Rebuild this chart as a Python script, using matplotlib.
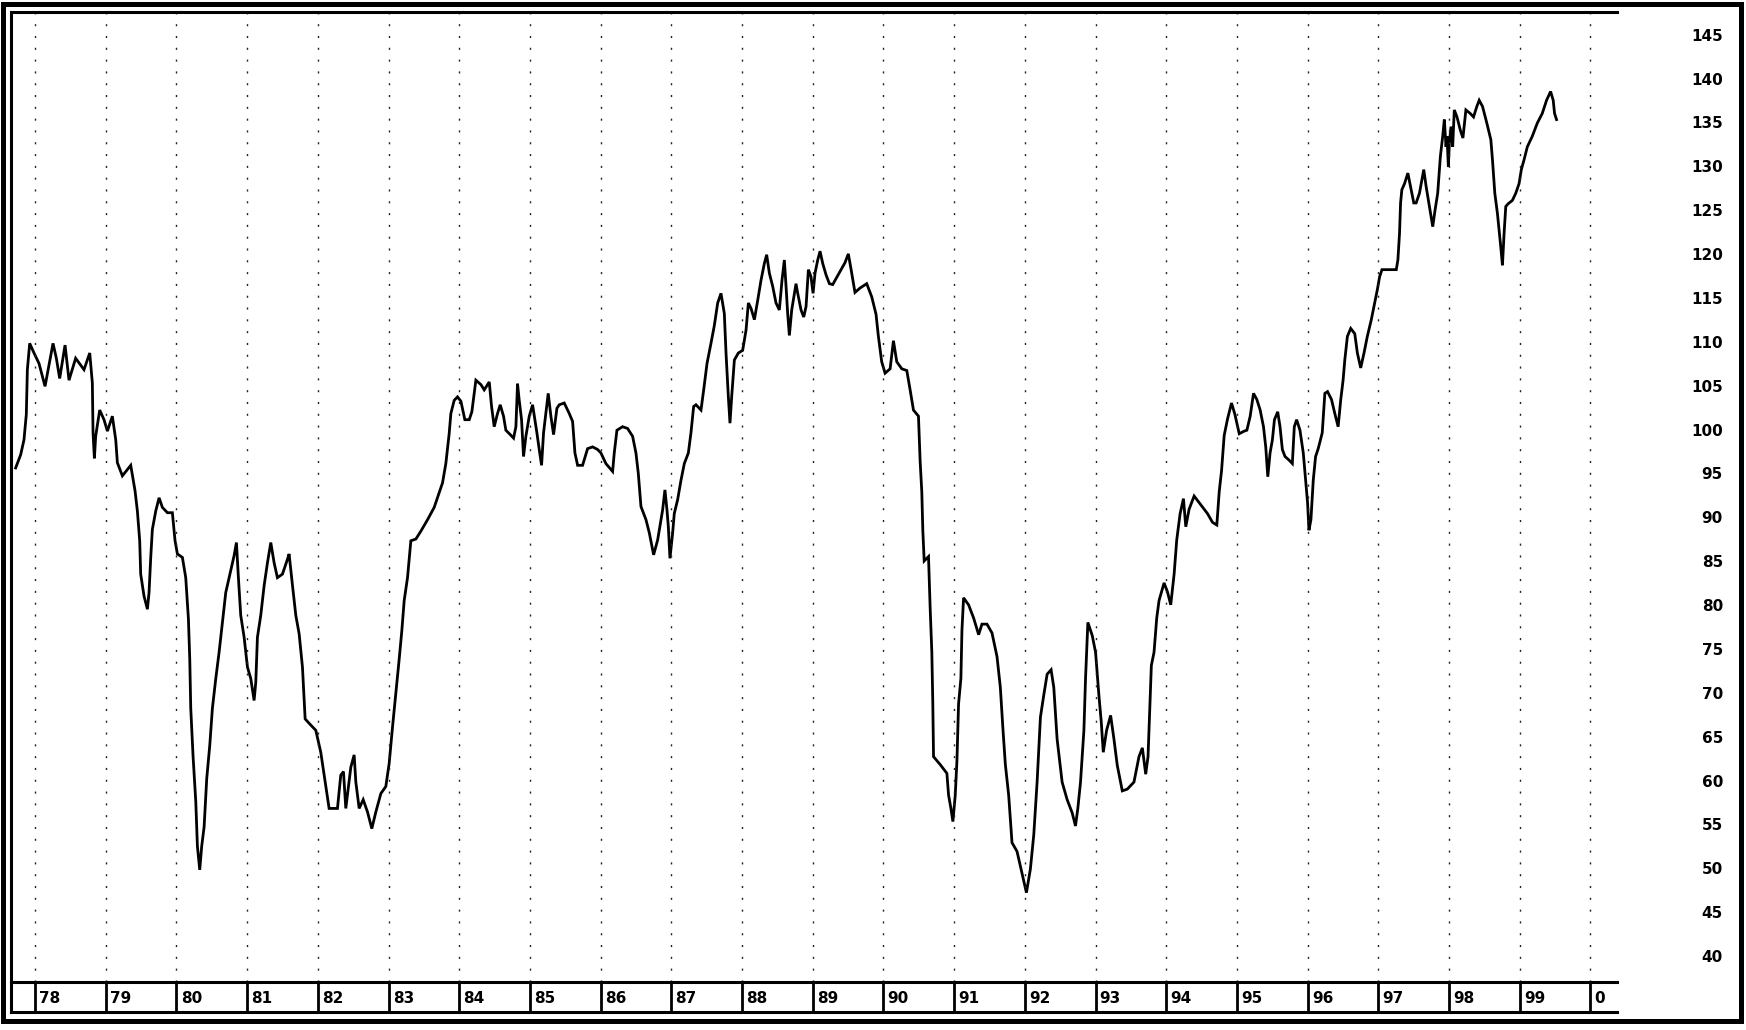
import matplotlib
matplotlib.use("Agg")
import matplotlib.pyplot as plt
import matplotlib.transforms as mtransforms
from matplotlib.patches import Rectangle

# index readings, split by period (decimal year, level)
t_78_83 = [1977.726, 1977.797, 1977.844, 1977.877, 1977.892, 1977.925, 1977.986, 1978.057, 1978.142, 1978.198,
           1978.255, 1978.302, 1978.349, 1978.387, 1978.425, 1978.481, 1978.575, 1978.693, 1978.774, 1978.811,
           1978.821, 1978.840, 1978.858, 1978.915, 1978.976, 1979.024, 1979.094, 1979.142, 1979.165, 1979.236,
           1979.354, 1979.415, 1979.448, 1979.481, 1979.495, 1979.542, 1979.590, 1979.613, 1979.637, 1979.660,
           1979.708, 1979.755, 1979.802, 1979.873, 1979.943, 1979.981, 1980.014, 1980.085, 1980.132, 1980.170,
           1980.189, 1980.203, 1980.236, 1980.274, 1980.297, 1980.330, 1980.358, 1980.392, 1980.429, 1980.472,
           1980.509, 1980.557, 1980.604, 1980.651, 1980.698, 1980.769, 1980.816, 1980.849, 1980.877, 1980.910,
           1980.958, 1981.005, 1981.052, 1981.099, 1981.123, 1981.146, 1981.193, 1981.241, 1981.288, 1981.335,
           1981.382, 1981.429, 1981.500, 1981.571, 1981.594, 1981.642, 1981.689, 1981.736, 1981.783, 1981.821,
           1981.877, 1981.972, 1982.042, 1982.090, 1982.160, 1982.278, 1982.325, 1982.363, 1982.396, 1982.434,
           1982.467, 1982.514, 1982.538, 1982.585, 1982.642, 1982.703, 1982.764, 1982.821, 1982.892, 1982.962,
           1983.009, 1983.057, 1983.104, 1983.151, 1983.189, 1983.222, 1983.269, 1983.316, 1983.387, 1983.458,
           1983.552, 1983.646]
v_78_83 = [95.8, 97.3, 99.0, 101.9, 107.0, 110.0, 108.9, 107.7, 105.1, 107.5,
           110.0, 108.3, 106.0, 107.9, 109.8, 105.8, 108.3, 107.0, 108.9, 105.5,
           99.8, 96.9, 99.4, 102.4, 101.3, 100.0, 101.7, 99.0, 96.4, 94.9,
           96.1, 93.2, 90.9, 87.5, 83.7, 81.2, 79.7, 81.6, 85.6, 88.8,
           90.9, 92.4, 91.3, 90.7, 90.7, 87.5, 86.0, 85.6, 83.3, 78.6,
           74.0, 68.4, 62.9, 57.8, 52.7, 50.0, 52.7, 54.9, 60.4, 64.2,
           68.4, 71.8, 74.8, 78.2, 81.6, 84.1, 85.8, 87.3, 83.3, 79.0,
           76.5, 73.1, 71.8, 69.3, 71.4, 76.5, 79.0, 82.4, 85.0, 87.3,
           85.0, 83.3, 83.7, 85.4, 86.0, 82.4, 79.0, 76.9, 73.1, 67.2,
           66.7, 65.9, 63.4, 60.8, 57.0, 57.0, 60.8, 61.2, 57.0, 59.5,
           61.7, 63.1, 60.0, 57.0, 58.0, 56.6, 54.7, 56.6, 58.7, 59.5,
           62.1, 66.3, 70.1, 74.0, 77.3, 80.7, 83.3, 87.5, 87.7, 88.6,
           89.9, 91.3]

t_84_89 = [1983.764, 1983.811, 1983.858, 1983.882, 1983.929, 1983.976, 1984.024, 1984.080, 1984.142, 1984.179,
           1984.236, 1984.307, 1984.354, 1984.425, 1984.458, 1984.495, 1984.542, 1984.580, 1984.627, 1984.660,
           1984.722, 1984.769, 1984.802, 1984.825, 1984.849, 1984.882, 1984.910, 1984.943, 1984.991, 1985.038,
           1985.099, 1985.132, 1985.165, 1985.193, 1985.226, 1985.259, 1985.297, 1985.335, 1985.382, 1985.415,
           1985.486, 1985.557, 1985.604, 1985.637, 1985.675, 1985.745, 1985.816, 1985.887, 1985.958, 1986.005,
           1986.075, 1986.170, 1986.193, 1986.231, 1986.311, 1986.382, 1986.453, 1986.500, 1986.533, 1986.571,
           1986.642, 1986.689, 1986.750, 1986.807, 1986.877, 1986.910, 1986.939, 1986.958, 1986.981, 1987.019,
           1987.042, 1987.090, 1987.137, 1987.184, 1987.241, 1987.278, 1987.316, 1987.349, 1987.420, 1987.458,
           1987.505, 1987.561, 1987.608, 1987.656, 1987.703, 1987.750, 1987.774, 1987.807, 1987.830, 1987.854,
           1987.892, 1987.948, 1988.009, 1988.057, 1988.090, 1988.127, 1988.175, 1988.222, 1988.269, 1988.316,
           1988.349, 1988.387, 1988.434, 1988.481, 1988.528, 1988.566, 1988.599, 1988.623, 1988.646, 1988.670,
           1988.703, 1988.741, 1988.764, 1988.788, 1988.835, 1988.873, 1988.906, 1988.939, 1988.976, 1989.005,
           1989.033, 1989.071, 1989.104, 1989.142, 1989.189, 1989.236, 1989.283]
v_84_89 = [94.1, 96.3, 99.7, 102.0, 103.5, 103.9, 103.4, 101.3, 101.3, 102.2,
           105.8, 105.3, 104.7, 105.6, 102.8, 100.5, 102.0, 103.0, 101.7, 100.1,
           99.6, 99.2, 100.5, 105.4, 103.5, 101.3, 97.1, 99.4, 101.7, 103.0,
           99.8, 97.9, 96.1, 99.8, 102.0, 104.3, 101.7, 99.6, 102.6, 103.0,
           103.2, 102.0, 101.1, 97.5, 96.1, 96.1, 98.0, 98.2, 97.9, 97.5,
           96.3, 95.4, 97.5, 100.1, 100.5, 100.3, 99.4, 97.5, 95.2, 91.4,
           89.9, 88.4, 85.9, 87.6, 91.0, 93.3, 91.0, 89.1, 85.5, 88.4,
           90.6, 92.2, 94.4, 96.3, 97.5, 99.8, 102.8, 103.0, 102.4, 104.7,
           107.7, 110.0, 112.0, 114.6, 115.7, 113.4, 108.9, 103.9, 100.9, 103.9,
           108.1, 108.9, 109.2, 111.5, 114.6, 114.0, 112.7, 114.9, 117.2, 119.1,
           120.1, 118.0, 116.5, 114.6, 113.8, 117.2, 119.5, 116.5, 113.4, 110.9,
           113.8, 115.7, 116.8, 115.7, 113.8, 113.0, 114.2, 118.4, 117.6, 115.7,
           118.0, 119.5, 120.5, 119.1, 117.8, 116.8, 116.7]

t_89_95 = [1989.457, 1989.504, 1989.537, 1989.598, 1989.669, 1989.764, 1989.835, 1989.896, 1989.929, 1989.976,
           1990.024, 1990.095, 1990.142, 1990.189, 1990.260, 1990.331, 1990.378, 1990.425, 1990.496, 1990.520,
           1990.543, 1990.558, 1990.577, 1990.638, 1990.662, 1990.685, 1990.699, 1990.709, 1990.803, 1990.898,
           1990.922, 1990.955, 1990.983, 1991.016, 1991.040, 1991.063, 1991.096, 1991.111, 1991.134, 1991.205,
           1991.276, 1991.347, 1991.394, 1991.465, 1991.536, 1991.607, 1991.654, 1991.692, 1991.725, 1991.772,
           1991.819, 1991.890, 1991.961, 1992.023, 1992.079, 1992.127, 1992.174, 1992.221, 1992.268, 1992.316,
           1992.372, 1992.410, 1992.457, 1992.528, 1992.599, 1992.670, 1992.717, 1992.750, 1992.788, 1992.836,
           1992.859, 1992.892, 1992.954, 1993.001, 1993.048, 1993.081, 1993.110, 1993.157, 1993.214, 1993.261,
           1993.308, 1993.379, 1993.450, 1993.544, 1993.615, 1993.663, 1993.710, 1993.743, 1993.757, 1993.790,
           1993.828, 1993.866, 1993.899, 1993.970, 1994.017, 1994.064, 1994.112, 1994.149, 1994.197, 1994.244,
           1994.277, 1994.324, 1994.395, 1994.490, 1994.584, 1994.655, 1994.716, 1994.750, 1994.783, 1994.820,
           1994.868, 1994.924, 1994.972, 1995.033, 1995.104]
v_89_95 = [119.2, 120.2, 118.7, 115.8, 116.3, 116.8, 115.3, 113.3, 110.8, 107.9,
           106.6, 107.1, 110.3, 107.9, 107.1, 106.9, 104.7, 102.4, 101.7, 96.5,
           93.1, 88.6, 85.2, 85.7, 79.7, 74.8, 68.9, 62.9, 62.0, 61.0,
           58.5, 57.0, 55.5, 58.5, 62.4, 68.9, 71.8, 77.3, 81.0, 80.2,
           78.7, 76.8, 78.0, 78.0, 77.0, 74.3, 70.8, 65.9, 62.0, 58.5,
           53.1, 52.1, 49.6, 47.4, 50.1, 54.0, 60.0, 67.4, 69.9, 72.3,
           72.8, 70.8, 64.9, 60.0, 58.0, 56.5, 55.0, 57.0, 60.0, 65.9,
           71.8, 78.2, 76.7, 74.8, 69.9, 66.9, 63.4, 65.9, 67.6, 64.9,
           61.9, 59.0, 59.2, 60.0, 62.9, 63.9, 60.9, 62.9, 65.9, 73.3,
           74.8, 78.7, 80.7, 82.7, 81.7, 80.2, 83.7, 87.6, 90.6, 92.3,
           89.1, 91.1, 92.6, 91.6, 90.6, 89.6, 89.3, 93.1, 95.5, 99.5,
           101.4, 103.2, 101.9, 99.7, 100.0]

t_95_99 = [1995.141, 1995.188, 1995.235, 1995.282, 1995.329, 1995.376, 1995.408, 1995.437, 1995.469, 1995.502,
           1995.531, 1995.577, 1995.610, 1995.643, 1995.681, 1995.737, 1995.784, 1995.812, 1995.845, 1995.892,
           1995.939, 1995.972, 1996.000, 1996.019, 1996.047, 1996.080, 1996.113, 1996.150, 1996.207, 1996.244,
           1996.282, 1996.338, 1996.385, 1996.432, 1996.469, 1996.502, 1996.526, 1996.563, 1996.610, 1996.667,
           1996.704, 1996.751, 1996.798, 1996.845, 1996.901, 1996.948, 1996.986, 1997.019, 1997.052, 1997.136,
           1997.254, 1997.277, 1997.300, 1997.315, 1997.333, 1997.371, 1997.418, 1997.455, 1997.502, 1997.535,
           1997.582, 1997.643, 1997.676, 1997.723, 1997.770, 1997.803, 1997.840, 1997.878, 1997.911, 1997.934,
           1997.958, 1997.972, 1997.991, 1998.005, 1998.028, 1998.052, 1998.075, 1998.113, 1998.160, 1998.197,
           1998.239, 1998.300, 1998.347, 1998.394, 1998.427, 1998.474, 1998.535, 1998.592, 1998.615, 1998.648,
           1998.685, 1998.732, 1998.756, 1998.779, 1998.803, 1998.836, 1998.897, 1998.944, 1998.991, 1999.023,
           1999.061, 1999.108, 1999.178, 1999.249, 1999.319, 1999.380, 1999.437, 1999.474, 1999.493, 1999.521]
v_95_99 = [100.1, 101.7, 104.3, 103.6, 102.4, 100.5, 98.2, 94.8, 97.5, 99.0,
           101.3, 102.2, 100.5, 97.9, 97.1, 96.7, 96.3, 100.5, 101.3, 100.1,
           97.5, 94.4, 91.8, 88.7, 89.9, 94.4, 97.1, 98.0, 99.8, 104.3,
           104.5, 103.6, 102.0, 100.5, 103.6, 105.8, 108.1, 110.8, 111.7, 111.1,
           108.9, 107.2, 108.9, 110.8, 112.7, 114.6, 116.1, 117.6, 118.4, 118.4,
           118.4, 119.5, 122.5, 126.0, 127.5, 128.2, 129.4, 127.9, 126.0, 126.0,
           127.1, 129.8, 127.9, 125.6, 123.3, 125.2, 127.1, 131.3, 133.6, 135.5,
           132.4, 133.6, 130.1, 132.8, 134.7, 132.4, 136.6, 135.8, 134.3, 133.4,
           136.6, 136.2, 135.8, 137.0, 137.7, 137.0, 135.1, 133.2, 130.9, 127.1,
           124.8, 121.0, 118.9, 122.5, 125.6, 125.9, 126.3, 127.1, 128.2, 129.8,
           130.9, 132.4, 133.6, 135.1, 136.2, 137.7, 138.7, 137.7, 136.2, 135.5]

years = list(range(1978, 2001))
year_labels = ["78", "79", "80", "81", "82", "83", "84", "85", "86", "87", "88",
               "89", "90", "91", "92", "93", "94", "95", "96", "97", "98", "99", "0"]
y_ticks = list(range(40, 150, 5))

t = t_78_83 + t_84_89 + t_89_95 + t_95_99
v = v_78_83 + v_84_89 + v_89_95 + v_95_99

W, H = 1746, 1030
fig = plt.figure(figsize=(W / 100, H / 100), dpi=100)

# px helpers for layout
left, right, top, bottom, strip_bot = 11, 1617, 12, 982, 1012
x0 = 1978 + (left - 35) / 70.7
x1 = 1978 + (right - 35) / 70.7
ax = fig.add_axes([left / W, 1 - bottom / H, (right - left) / W, (bottom - top) / H])
ax.plot(t, v, color="black", lw=2.0, solid_joinstyle="miter")
ax.set_xlim(x0, x1)
ax.set_ylim(37.22, 147.76)
for yr in years:
    ax.axvline(yr, color="#222222", lw=1.0, linestyle=(0, (1.5, 7)))
ax.set_xticks([])
ax.set_yticks([])
for s in ["right", "bottom"]:
    ax.spines[s].set_visible(False)
for s in ["left", "top"]:
    ax.spines[s].set_linewidth(2.2)

# y labels sit outside the plot on the right
trans = mtransforms.blended_transform_factory(fig.transFigure, ax.transData)
for yv in y_ticks:
    ax.text(1723 / W, yv, str(yv), transform=trans, ha="right", va="center",
            fontsize=11, fontweight="bold", clip_on=False)

# year strip
sx = fig.add_axes([left / W, 1 - strip_bot / H, (right - left) / W, (strip_bot - bottom) / H])
sx.set_xlim(x0, x1)
sx.set_ylim(0, 1)
sx.set_xticks([])
sx.set_yticks([])
sx.spines["right"].set_visible(False)
for s in ["left", "top", "bottom"]:
    sx.spines[s].set_linewidth(2.2)
for yr, lab in zip(years, year_labels):
    sx.axvline(yr, color="black", lw=2.0)
    sx.text(yr + 0.06, 0.45, lab, ha="left", va="center", fontsize=11, fontweight="bold")

# outer frame
fig.add_artist(Rectangle((3 / W, 1 - 1021 / H), (1741 - 3) / W, (1021 - 4) / H,
                         transform=fig.transFigure, fill=False, lw=3.6, ec="black"))

fig.savefig("out.png", dpi=100)
